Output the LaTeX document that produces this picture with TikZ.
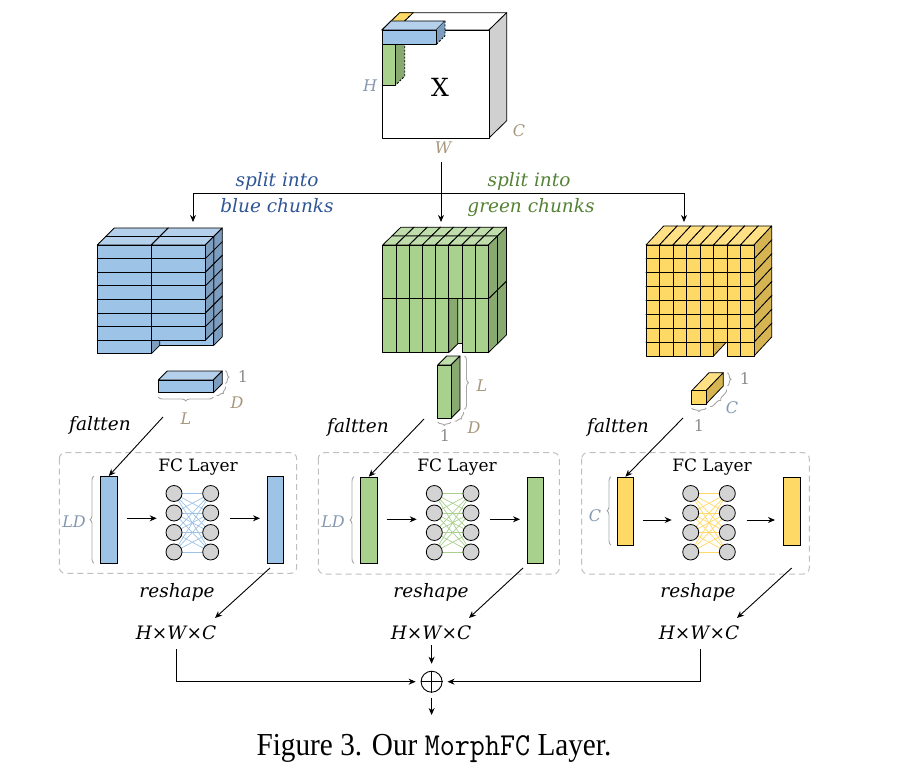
\documentclass[tikz,border=0pt]{standalone}
\usepackage{fontspec}
\setmainfont{Liberation Serif}
\newfontfamily\dv{DejaVu Serif}
\usetikzlibrary{arrows.meta,decorations.pathreplacing}
\definecolor{blueF}{HTML}{9DC3E6}
\definecolor{blueS}{HTML}{7D9DBF}
\definecolor{blueT}{HTML}{B4D0EB}
\definecolor{greenF}{HTML}{A9D18E}
\definecolor{greenS}{HTML}{88AA70}
\definecolor{greenT}{HTML}{C0DDAC}
\definecolor{yelF}{HTML}{FFD966}
\definecolor{yelS}{HTML}{D6B451}
\definecolor{yelT}{HTML}{FFE084}
\definecolor{cubeS}{HTML}{D0D0D0}
\definecolor{neu}{HTML}{D3D3D3}
\definecolor{dimB}{HTML}{8497B0}
\definecolor{dimT}{HTML}{A8967C}
\definecolor{dimG}{HTML}{8C8C8C}
\definecolor{txtB}{HTML}{2F5597}
\definecolor{txtG}{HTML}{548235}
\definecolor{boxG}{HTML}{BFBFBF}
\definecolor{brcG}{HTML}{A6A6A6}
\newcommand\cuboid[9]{%
  \filldraw[fill=#9,cubeline] (#1,#2) -- ++(#5,-#6) -- ++(#3,0) -- ++(-#5,#6) -- cycle;
  \filldraw[fill=#8,cubeline] (#1+#3,#2) -- ++(#5,-#6) -- ++(0,#4) -- ++(-#5,#6) -- cycle;
  \filldraw[fill=#7,cubeline] (#1,#2) rectangle ++(#3,#4);
}
\tikzset{
  cubeline/.style={draw=black,line width=0.8pt,line join=round},
  conn/.style={line width=0.9pt,draw=black},
  arr/.style={conn,-{Stealth[length=7pt,width=6pt]}},
  brc/.style={draw=brcG,line width=0.9pt,decorate,decoration={brace,amplitude=4pt}},
  lbl/.style={font=\dv\itshape\fontsize{18.5}{20}\selectfont,inner sep=0pt,anchor=base},
  dimlbl/.style={font=\dv\itshape\fontsize{16}{18}\selectfont,inner sep=0pt},
  onelbl/.style={font=\dv\fontsize{16}{18}\selectfont,inner sep=0pt,text=dimG},
  fcbox/.style={draw=boxG,line width=1pt,dash pattern=on 6pt off 4pt,rounded corners=6pt},
  neuron/.style={circle,draw=black,line width=0.8pt,fill=neu,minimum size=16pt,inner sep=0pt},
  bar/.style={draw=black,line width=0.8pt},
  fctitle/.style={font=\dv\fontsize{17}{18}\selectfont,inner sep=0pt,anchor=base},
}
\begin{document}
\begin{tikzpicture}[x=1pt,y=-1pt]
\useasboundingbox (0,0) rectangle (916,770);
% ---------- input tensor X ----------
\cuboid{382}{30}{107}{108}{17.7}{17.3}{white}{cubeS}{white}
% yellow chunk (top face)
\filldraw[fill=yelF,cubeline] (382,30) -- (399.7,12.7) -- (413.2,12.7) -- (395.5,30) -- cycle;
\draw[line width=0.8pt,dashed] (395.5,30) -- (413.2,12.7);
% green bar
\filldraw[fill=greenS,draw=none] (395.7,44.7) -- (404.7,35.7) -- (404.7,76) -- (395.7,85) -- cycle;
\draw[line width=0.8pt,dash pattern=on 2pt off 1.5pt] (404.7,35.7) -- (404.7,76) -- (395.7,85);
\filldraw[fill=greenF,cubeline] (382,44.7) rectangle (395.7,85);
% blue bar
\filldraw[fill=blueT,cubeline] (382,30) -- (391,21) -- (445,21) -- (436,30) -- cycle;
\filldraw[fill=blueS,draw=none] (436,30) -- (445,21) -- (445,35.7) -- (436,44.7) -- cycle;
\draw[line width=0.8pt,dash pattern=on 2pt off 1.5pt] (445,21) -- (445,35.7) -- (436,44.7);
\filldraw[fill=blueF,cubeline] (382,30) rectangle (436,44.7);
\node[font=\dv\fontsize{25}{26}\selectfont,inner sep=0pt] (X) at (440,87) {X};
\node[dimlbl,text=dimB] (H) at (370,86) {H};
\node[dimlbl,text=dimT] (Cc) at (519,131) {C};
\node[dimlbl,text=dimT] (W) at (443,148) {W};
% ---------- split arrows ----------
\coordinate (top) at (441,162);
\coordinate (fork) at (441,193);
\coordinate (tb) at (193,222);
\coordinate (tg) at (441,222);
\coordinate (ty) at (684,222);
\draw[arr] (top) -- (tg);
\draw[arr] (fork) -| (tb);
\draw[arr] (fork) -| (ty);
\node[lbl,text=txtB] (s1) at (277,187) {split into};
\node[lbl,text=txtB] (s2) at (277,213) {blue chunks};
\node[lbl,text=txtG] (s3) at (529,187) {split into};
\node[lbl,text=txtG] (s4) at (531,213) {green chunks};
% ---------- blue stack ----------
\foreach \dd in {1,0}{\foreach \r in {7,6,...,0}{\foreach \c in {0,1}{%
  \pgfmathtruncatemacro\skipit{(\dd==0)&&(\r==7)&&(\c==1)}%
  \ifnum\skipit=0
   \pgfmathsetmacro\xx{97.3+\c*54+\dd*8.5}%
   \pgfmathsetmacro\yy{245+\r*13.6-\dd*8.5}%
   \cuboid{\xx}{\yy}{54}{13.6}{8.5}{8.5}{blueF}{blueS}{blueT}
  \fi}}}
% ---------- green stack ----------
\foreach \dd in {1,0}{\foreach \r in {1,0}{\foreach \c in {0,...,7}{%
  \pgfmathtruncatemacro\skipit{(\dd==0)&&(\r==1)&&(\c==5)}%
  \ifnum\skipit=0
   \pgfmathsetmacro\xx{382.7+\c*13.2+\dd*9.1}%
   \pgfmathsetmacro\yy{245+\r*53.85-\dd*8.9}%
   \cuboid{\xx}{\yy}{13.2}{53.85}{9.1}{8.9}{greenF}{greenS}{greenT}
  \fi}}}
% ---------- yellow stack ----------
\foreach \r in {7,6,...,0}{\foreach \c in {0,...,7}{%
  \pgfmathtruncatemacro\skipit{(\r==7)&&(\c==5)}%
  \ifnum\skipit=0
   \pgfmathsetmacro\xx{646+\c*13.5}%
   \pgfmathsetmacro\yy{245+\r*13.875}%
   \cuboid{\xx}{\yy}{13.5}{13.875}{17.7}{19}{yelF}{yelS}{yelT}
  \fi}}
% ---------- single chunks ----------
\cuboid{158.3}{380}{55}{12.7}{9}{9}{blueF}{blueS}{blueT}
\cuboid{437.7}{365}{13.3}{53.3}{9}{9}{greenF}{greenS}{greenT}
\cuboid{691.7}{390.7}{14.3}{13.3}{17.3}{18}{yelF}{yelS}{yelT}
% braces blue chunk
\draw[brc,decoration={amplitude=3.5pt}] (225.5,370.7) -- (225.5,383.5);
\node[onelbl] (b1) at (243,377) {1};
\draw[brc,decoration={amplitude=3.5pt}] (225.5,386.5) -- (216.5,395.5);
\node[dimlbl,text=dimT] (bD) at (237,403) {D};
\draw[brc] (213.3,397) -- (158.3,397);
\node[dimlbl,text=dimT] (bL) at (186,419) {L};
% braces green chunk
\draw[brc] (464.5,356) -- (464.5,409.3);
\node[dimlbl,text=dimT] (gL) at (482,386) {L};
\draw[brc,decoration={amplitude=3.5pt}] (463.5,412) -- (454.5,421);
\node[dimlbl,text=dimT] (gD) at (474,428) {D};
\draw[brc,decoration={amplitude=3.5pt}] (451,422) -- (437.7,422);
\node[onelbl] (g1) at (445,436) {1};
% braces yellow chunk
\draw[brc,decoration={amplitude=3.5pt}] (727.5,372.7) -- (727.5,386);
\node[onelbl] (y1) at (745,379) {1};
\draw[brc,decoration={amplitude=3.5pt}] (726.5,389.5) -- (710,406.5);
\node[dimlbl,text=dimB] (yC) at (732,408) {C};
\draw[brc,decoration={amplitude=3.5pt}] (706,408) -- (691.7,408);
\node[onelbl] (y1b) at (699,426) {1};
% ---------- flatten ----------
\node[lbl] (f1) at (100,430) {faltten};
\node[lbl] (f2) at (358,432) {faltten};
\node[lbl] (f3) at (618,432) {faltten};
\coordinate (fa1) at (163,417);
\coordinate (fa2) at (424,419);
\coordinate (fa3) at (683,418);
% ---------- FC boxes ----------
\draw[fcbox] (59.3,452.7) rectangle (296.7,573.3);
\draw[fcbox] (318.3,452.7) rectangle (559.3,574);
\draw[fcbox] (581.7,452.7) rectangle (809.3,574);
\node[fctitle] (t1) at (198,471.7) {FC Layer};
\node[fctitle] (t2) at (457,471.7) {FC Layer};
\node[fctitle] (t3) at (712,471.7) {FC Layer};
% bars
\node[bar,fill=blueF,minimum width=16.7pt,minimum height=87.3pt,inner sep=0pt,anchor=north west] (in1) at (100,476) {};
\node[bar,fill=blueF,minimum width=16pt,minimum height=87.3pt,inner sep=0pt,anchor=north west] (out1) at (267.3,476) {};
\node[bar,fill=greenF,minimum width=16.7pt,minimum height=86.6pt,inner sep=0pt,anchor=north west] (in2) at (360,476.7) {};
\node[bar,fill=greenF,minimum width=16pt,minimum height=86.6pt,inner sep=0pt,anchor=north west] (out2) at (527.3,476.7) {};
\node[bar,fill=yelF,minimum width=16.6pt,minimum height=68.3pt,inner sep=0pt,anchor=north west] (in3) at (616.7,476.7) {};
\node[bar,fill=yelF,minimum width=16.7pt,minimum height=68.3pt,inner sep=0pt,anchor=north west] (out3) at (783.3,476.7) {};
\draw[arr] (fa1) -- (in1.north);
\draw[arr] (fa2) -- (in2.north);
\draw[arr] (fa3) -- (in3.north);
% side braces
\draw[brc] (94,563.3) -- (94,476);
\node[dimlbl,text=dimB] (ld1) at (74,522) {LD};
\draw[brc] (354,563.3) -- (354,476.7);
\node[dimlbl,text=dimB] (ld2) at (333,522) {LD};
\draw[brc] (611,545) -- (611,476.7);
\node[dimlbl,text=dimB] (c3) at (595,516) {C};
% neurons (named) and their connections
\foreach \k/\lx/\rx in {1/174/210.7,2/434.3/471,3/690.7/727.3}{
  \foreach \i/\ny in {1/493.5,2/513,3/532.5,4/552}{
    \coordinate (L\k\i) at (\lx,\ny);
    \coordinate (R\k\i) at (\rx,\ny);
  }
}
\foreach \k/\lc in {1/blueF,2/greenF,3/yelF}{
  \foreach \i in {1,...,4}{\foreach \j in {1,...,4}{
    \draw[draw=\lc,line width=0.7pt] (L\k\i) -- (R\k\j);
  }}
}
\foreach \k in {1,2,3}{
  \foreach \i in {1,...,4}{
    \node[neuron] (nl\k\i) at (L\k\i) {};
    \node[neuron] (nr\k\i) at (R\k\i) {};
  }
}
% inner arrows
\coordinate (a11) at (126.7,518.3); \coordinate (a12) at (156.7,518.3);
\coordinate (a13) at (230,518.3); \coordinate (a14) at (260,518.3);
\coordinate (a21) at (386.7,519.3); \coordinate (a22) at (416.7,519.3);
\coordinate (a23) at (490,519.3); \coordinate (a24) at (520,519.3);
\coordinate (a31) at (643,520); \coordinate (a32) at (671.7,520);
\coordinate (a33) at (746.7,520); \coordinate (a34) at (775,520);
\draw[arr] (a11) -- (a12); \draw[arr] (a13) -- (a14);
\draw[arr] (a21) -- (a22); \draw[arr] (a23) -- (a24);
\draw[arr] (a31) -- (a32); \draw[arr] (a33) -- (a34);
% ---------- reshape ----------
\node[lbl] (r1) at (177,597) {reshape};
\node[lbl] (r2) at (431,597) {reshape};
\node[lbl] (r3) at (698,597) {reshape};
\node[lbl] (h1) at (176,639) {H×W×C};
\node[lbl] (h2) at (431,639) {H×W×C};
\node[lbl] (h3) at (699,639) {H×W×C};
\coordinate (ra1) at (270,568); \coordinate (rb1) at (215,618);
\coordinate (ra2) at (523,568); \coordinate (rb2) at (469,618);
\coordinate (ra3) at (791.7,568); \coordinate (rb3) at (737,618);
\draw[arr] (ra1) -- (rb1);
\draw[arr] (ra2) -- (rb2);
\draw[arr] (ra3) -- (rb3);
% ---------- sum ----------
\node[circle,draw=black,line width=0.9pt,minimum size=21pt,inner sep=0pt] (sum) at (431.6,681.7) {};
\draw[line width=0.9pt] (sum.north) -- (sum.south) (sum.west) -- (sum.east);
\coordinate (hl) at (176,649);
\coordinate (hr) at (700.6,649);
\coordinate (hc) at (431.6,645);
\coordinate (outp) at (431.6,715);
\draw[arr,shorten >=5pt] (hl) |- (sum.west);
\draw[arr,shorten >=5pt] (hr) |- (sum.east);
\draw[arr,shorten >=7pt] (hc) -- (sum.north);
\draw[arr,shorten <=5pt] (sum.south) -- (outp);
% ---------- caption ----------
\node[font=\fontsize{32}{34}\selectfont,inner sep=0pt,anchor=base,xscale=0.914,transform shape] (cap) at (434,755) {Figure 3. Our \texttt{MorphFC} Layer.};
\end{tikzpicture}
\end{document}
